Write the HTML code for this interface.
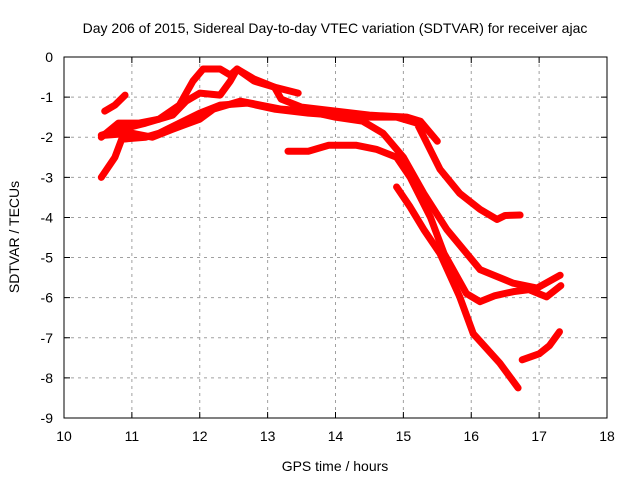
<!DOCTYPE html>
<html><head><meta charset="utf-8"><style>
body{margin:0;background:#fff}
svg{display:block;font-family:"Liberation Sans",sans-serif}
</style></head><body>
<svg id="chart" width="640" height="480" viewBox="0 0 640 480">
<text x="335" y="33" font-size="14" text-anchor="middle">Day 206 of 2015, Sidereal Day-to-day VTEC variation (SDTVAR) for receiver ajac</text>
<g id="grid"></g>
<g id="series"></g>
<rect x="64" y="57" width="543" height="361" fill="none" stroke="#000" stroke-width="1"/>
<g id="ticks"></g>
<text x="335" y="471" font-size="14" text-anchor="middle">GPS time / hours</text>
<text transform="translate(19,237) rotate(-90)" font-size="14" text-anchor="middle">SDTVAR / TECUs</text>
</svg>
<script>
const xTicks=[10,11,12,13,14,15,16,17,18];
const yTicks=[0,-1,-2,-3,-4,-5,-6,-7,-8,-9];
const seriesA=[[10.6,-1.35],[10.75,-1.2],[10.9,-0.95]];
const seriesB=[[10.55,-2.0],[10.8,-1.65],[11.1,-1.65],[11.4,-1.55],[11.7,-1.2],[11.9,-0.6],[12.05,-0.3],[12.3,-0.3],[12.45,-0.45],[12.55,-0.3],[12.8,-0.6],[13.1,-0.75],[13.45,-0.9]];
const seriesC=[[10.55,-1.95],[10.85,-1.8],[11.2,-1.65],[11.6,-1.45],[11.8,-1.1],[12.0,-0.9],[12.3,-0.95],[12.45,-0.6],[12.55,-0.3],[12.8,-0.55],[13.1,-0.75],[13.2,-1.05],[13.5,-1.25],[14.0,-1.35],[14.5,-1.45],[15.05,-1.5],[15.25,-1.6],[15.5,-2.1]];
const seriesD=[[10.55,-3.0],[10.75,-2.5],[10.85,-2.05],[11.2,-2.0],[11.4,-1.9],[11.7,-1.65],[12.0,-1.4],[12.3,-1.2],[12.7,-1.15],[13.1,-1.3],[13.6,-1.4],[14.0,-1.45],[14.5,-1.5],[14.9,-1.5],[15.2,-1.65],[15.54,-2.8],[15.83,-3.4],[16.13,-3.8],[16.38,-4.05],[16.5,-3.95],[16.72,-3.94]];
const seriesE=[[10.6,-1.95],[11.0,-1.9],[11.3,-2.0],[11.6,-1.8],[12.0,-1.55],[12.2,-1.3],[12.6,-1.1],[12.9,-1.2],[13.2,-1.3],[13.6,-1.35],[14.0,-1.5],[14.4,-1.6],[14.7,-1.9],[15.0,-2.5],[15.3,-3.4],[15.64,-4.3],[16.13,-5.3],[16.62,-5.64],[16.97,-5.76],[17.31,-5.44]];
const seriesF=[[13.3,-2.35],[13.6,-2.35],[13.9,-2.2],[14.3,-2.2],[14.6,-2.3],[14.9,-2.5],[15.1,-3.0],[15.4,-4.0],[15.6,-4.9],[15.93,-5.9],[16.13,-6.1],[16.35,-5.95],[16.62,-5.85],[16.85,-5.8],[17.11,-5.98],[17.32,-5.7]];
const seriesG=[[14.9,-3.24],[15.1,-3.74],[15.3,-4.3],[15.54,-4.9],[15.83,-5.98],[16.03,-6.9],[16.42,-7.63],[16.69,-8.25]];
const seriesH=[[16.75,-7.55],[17.0,-7.4],[17.15,-7.2],[17.3,-6.85]];
const allSeries=[seriesA,seriesB,seriesC,seriesD,seriesE,seriesF,seriesG,seriesH];
const NS="http://www.w3.org/2000/svg";
const X=h=>64+(h-10)*(543/8);
const Y=v=>57+(-v)*(361/9);
const grid=document.getElementById('grid'),ticks=document.getElementById('ticks'),ser=document.getElementById('series');
function mk(tag,attrs,parent){const e=document.createElementNS(NS,tag);for(const k in attrs)e.setAttribute(k,attrs[k]);parent.appendChild(e);return e;}
xTicks.forEach(t=>{
 const x=X(t);
 if(t>10&&t<18){const g=mk('line',{x1:x,x2:x,y1:57,y2:418,stroke:'#a0a0a0','stroke-dasharray':'3,4'},grid);
 
 }
 const tm=mk('path',{d:`M${x},418v-6M${x},57v6`,stroke:'#000'},ticks);
 
 
 const l=mk('text',{x:x,y:441,'font-size':14,'text-anchor':'middle'},ticks);l.textContent=t;
 
 
});
yTicks.forEach(t=>{
 const y=Y(t);
 if(t<0&&t>-9){const g=mk('line',{x1:64,x2:607,y1:y,y2:y,stroke:'#a0a0a0','stroke-dasharray':'3,4'},grid);
 
 }
 const tm=mk('path',{d:`M64,${y}h6M607,${y}h-6`,stroke:'#000'},ticks);
 
 
 const l=mk('text',{x:53,y:y+5,'font-size':14,'text-anchor':'end'},ticks);l.textContent=t;
 
 
});
allSeries.forEach((s,i)=>{
 const p=mk('polyline',{points:s.map(d=>X(d[0])+','+Y(d[1])).join(' '),fill:'none',stroke:'#ff0000','stroke-width':7,'stroke-linejoin':'round','stroke-linecap':'round'},ser);
 
 
});
</script>
</body></html>
